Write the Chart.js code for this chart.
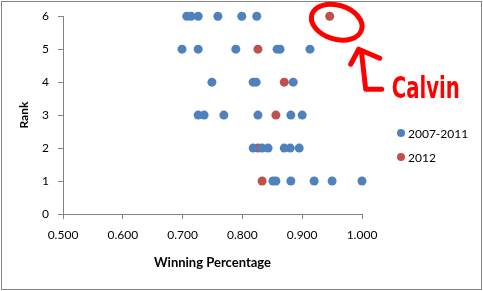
<!DOCTYPE html>
<html>
<head>
<meta charset="utf-8">
<script src="https://cdn.jsdelivr.net/npm/chart.js@4"></script>
<style>
  html, body { margin: 0; padding: 0; background: #fff; }
  #wrap { width: 483px; height: 291px; }
</style>
</head>
<body>
<div id="wrap"><canvas id="chart-1" width="483" height="291"></canvas></div>
<script>
// Data

const seriesNames = ["2007-2011", "2012"];
const seriesColors = ["#4F81BD", "#C0504D"];

// 2007-2011 seasons
const pctPast = [
  0.707, 0.714, 0.726, 0.759, 0.799, 0.824,
  0.699, 0.726, 0.789, 0.858, 0.863, 0.913,
  0.749, 0.818, 0.823, 0.885,
  0.726, 0.736, 0.769, 0.826, 0.881, 0.900,
  0.818, 0.833, 0.843, 0.870, 0.880, 0.895,
  0.851, 0.856, 0.881, 0.920, 0.950, 1.000,
];
const rankPast = [
  6, 6, 6, 6, 6, 6,
  5, 5, 5, 5, 5, 5,
  4, 4, 4, 4,
  3, 3, 3, 3, 3, 3,
  2, 2, 2, 2, 2, 2,
  1, 1, 1, 1, 1, 1,
];

// 2012 season
const pct2012 = [0.946, 0.826, 0.870, 0.856, 0.826, 0.833];
const rank2012 = [6, 5, 4, 3, 2, 1];

const xTicks = [0.5, 0.6, 0.7, 0.8, 0.9, 1.0];
const yTicks = [0, 1, 2, 3, 4, 5, 6];

const toPoints = (xs, ys) => xs.map((x, i) => ({ x: x, y: ys[i] }));

const axisGray = "#868686";
const font = "Lato";

// custom legend + frame + the red "Calvin" scribble
const extras = {
  id: "extras",
  afterDraw(chart) {
    const c = chart.ctx;
    const xs = chart.scales.x;
    const ys = chart.scales.y;

    // outer frame
    c.save();
    c.strokeStyle = axisGray;
    c.lineWidth = 1;
    c.strokeRect(1.5, 1.5, 480, 288);

    // legend
    c.font = "12px " + font;
    c.textBaseline = "middle";
    c.fillStyle = "#000";
    const legY = [133, 157];
    chart.data.datasets.forEach((ds, i) => {
      c.beginPath();
      c.arc(401, legY[i], 4, 0, Math.PI * 2);
      c.fillStyle = ds.backgroundColor;
      c.fill();
      c.fillStyle = "#000";
      c.fillText(ds.label, 408, legY[i] + 1);
    });

    // circle the 2012 rank-6 point
    const px = xs.getPixelForValue(pct2012[0]);
    const py = ys.getPixelForValue(rank2012[0]);
    c.strokeStyle = "#FF0000";
    c.fillStyle = "#FF0000";
    c.lineWidth = 5;
    c.lineCap = "round";
    c.lineJoin = "round";
    c.beginPath();
    c.ellipse(px + 7, py + 6, 26, 17, 0.3, 0, Math.PI * 2);
    c.stroke();

    // arrow
    c.beginPath();
    c.moveTo(px + 21, py + 48);
    c.lineTo(px + 29, py + 33);
    c.lineTo(px + 50, py + 42);
    c.moveTo(px + 32, py + 38);
    c.lineTo(px + 36, py + 73);
    c.lineTo(px + 52, py + 73);
    c.stroke();

    // label
    c.font = "bold 30px 'DejaVu Sans Condensed', 'DejaVu Sans'";
    c.textBaseline = "alphabetic";
    const w = c.measureText("Calvin").width;
    c.translate(px + 62, py + 82);
    c.scale(68 / w, 1);
    c.fillText("Calvin", 0, 0);
    c.restore();
  },
};

const ctx1 = document.getElementById("chart-1").getContext("2d");
const myChart = new Chart(ctx1, {
  type: "scatter",
  data: {
    datasets: [
      {
        label: seriesNames[0],
        data: toPoints(pctPast, rankPast),
        backgroundColor: seriesColors[0],
        borderColor: seriesColors[0],
        borderWidth: 0,
        pointRadius: 4.5,
        clip: false,
      },
      {
        label: seriesNames[1],
        data: toPoints(pct2012, rank2012),
        backgroundColor: seriesColors[1],
        borderColor: seriesColors[1],
        borderWidth: 0,
        pointRadius: 4.5,
        clip: false,
      },
    ],
  },
  options: {
    responsive: false,
    animation: false,
    layout: { padding: { top: 15, right: 121, bottom: 0, left: 0 } },
    plugins: {
      legend: { display: false },
      tooltip: { enabled: false },
    },
    scales: {
      x: {
        type: "linear",
        min: 0.5,
        max: 1.0,
        afterBuildTicks: (s) => { s.ticks = xTicks.map((v) => ({ value: v })); },
        afterFit: (s) => { s.height = 77; },
        ticks: {
          color: "#000",
          font: { family: font, size: 12 },
          padding: 9,
          callback: (v) => Number(v).toFixed(3),
        },
        grid: { drawOnChartArea: false, drawTicks: true, tickLength: 5, color: axisGray },
        border: { color: axisGray },
        title: {
          display: true,
          text: "Winning Percentage",
          color: "#000",
          font: { family: font, size: 13, weight: "bold" },
          padding: { top: 4, bottom: 20 },
        },
      },
      y: {
        type: "linear",
        min: 0,
        max: 6,
        afterBuildTicks: (s) => { s.ticks = yTicks.map((v) => ({ value: v })); },
        afterFit: (s) => { s.width = 63; },
        ticks: {
          color: "#000",
          font: { family: font, size: 12 },
          padding: 9,
        },
        grid: { drawOnChartArea: false, drawTicks: true, tickLength: 5, color: axisGray },
        border: { color: axisGray },
        title: {
          display: true,
          text: "Rank",
          color: "#000",
          font: { family: font, size: 12, weight: "bold" },
          padding: { top: 17, bottom: 4 },
        },
      },
    },
  },
  plugins: [extras],
});
</script>
</body>
</html>
